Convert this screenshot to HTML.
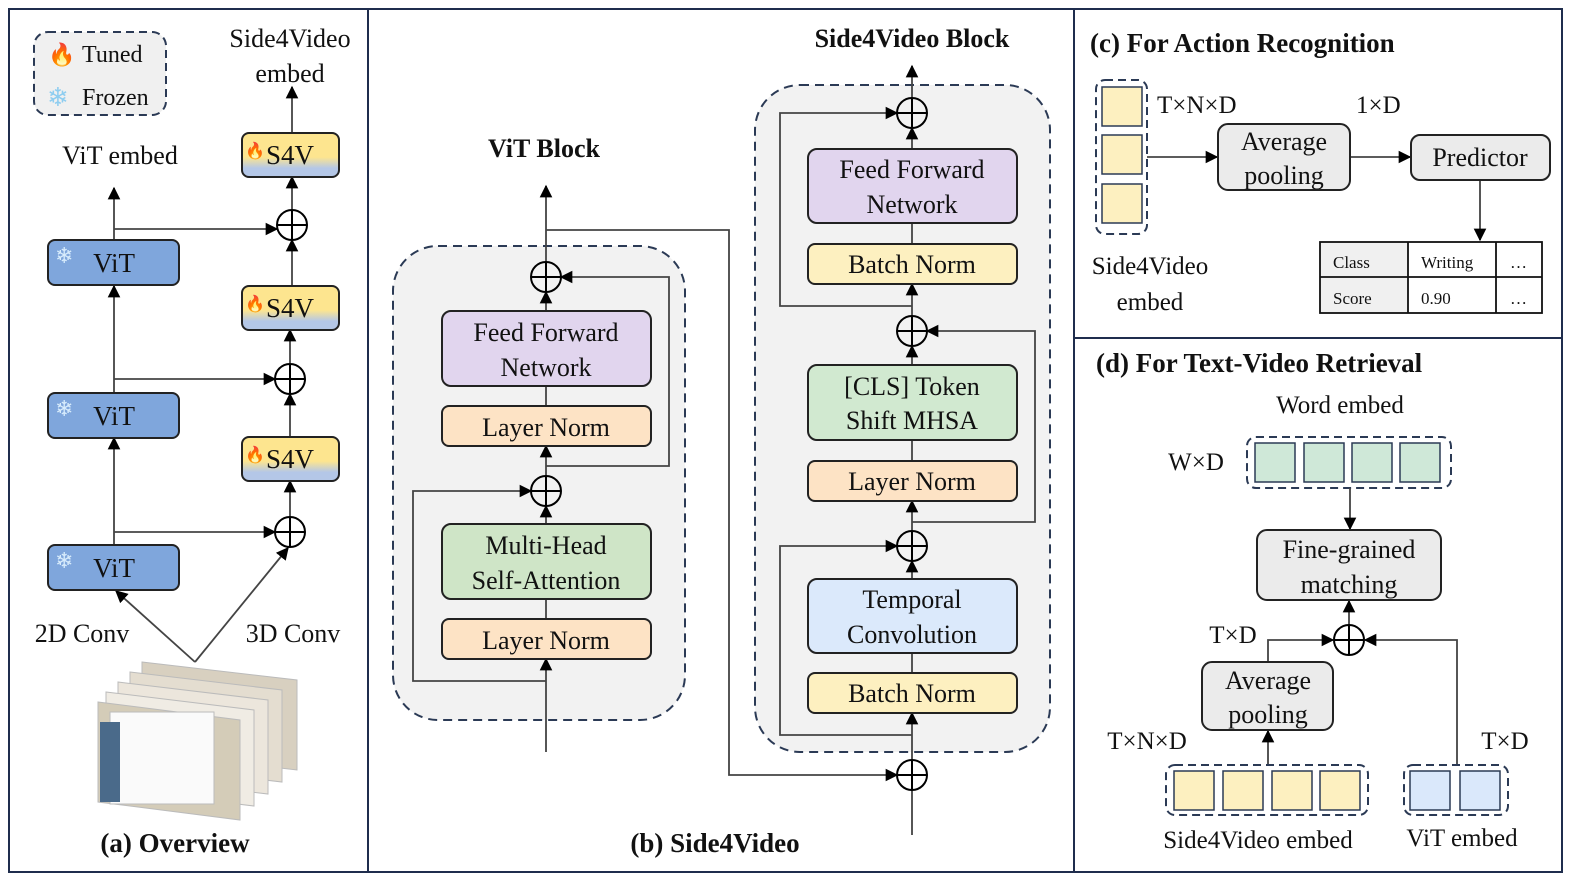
<!DOCTYPE html>
<html><head><meta charset="utf-8"><style>
html,body{margin:0;padding:0;background:#fff;overflow:hidden;width:1589px;height:894px}
svg{display:block}
text{font-family:"Liberation Serif",serif;fill:#111}
</style></head><body>
<svg width="1589" height="894" viewBox="0 0 1589 894" xmlns="http://www.w3.org/2000/svg">
<defs>
<marker id="ar" viewBox="0 0 10 10" refX="9" refY="5" markerWidth="7" markerHeight="7" orient="auto-start-reverse"><path d="M0,0L10,5L0,10z" fill="#000"/></marker>
<linearGradient id="sg" x1="0" y1="0" x2="0" y2="1"><stop offset="0" stop-color="#fde58f"/><stop offset="0.55" stop-color="#fde58f"/><stop offset="0.8" stop-color="#b4c7e7"/><stop offset="1" stop-color="#b4c7e7"/></linearGradient>
<g id="plus"><circle r="15" fill="none" stroke="#000" stroke-width="2"/><path d="M-15,0H15M0,-15V15" stroke="#000" stroke-width="2"/></g>
</defs>
<rect x="9" y="9" width="1553" height="863" fill="none" stroke="#1f2d4d" stroke-width="2"/>
<path d="M368,9V872M1074,9V872M1074,338H1562" stroke="#1f2d4d" stroke-width="2"/>

<!-- legend -->
<rect x="34" y="32" width="132" height="83" rx="14" fill="#f0f0f0" stroke="#2b3a55" stroke-width="2" stroke-dasharray="8,5"/>
<text x="48" y="62" font-size="22" style="fill:#e8501a">🔥</text>
<text x="82" y="62" font-size="24">Tuned</text>
<text x="47" y="106" font-size="26" style="fill:#8ecdf0">❄</text>
<text x="82" y="105" font-size="24">Frozen</text>
<text x="290" y="47" font-size="26" text-anchor="middle">Side4Video</text>
<text x="290" y="82" font-size="26" text-anchor="middle">embed</text>
<text x="120" y="164" font-size="26" text-anchor="middle">ViT embed</text>

<g stroke="#444" stroke-width="1.8" fill="none">
<path d="M292,133V87" marker-end="url(#ar)"/>
<path d="M292,210V177" marker-end="url(#ar)"/>
<path d="M292,286V240" marker-end="url(#ar)"/>
<path d="M290,437V394" marker-end="url(#ar)"/>
<path d="M290,363V330" marker-end="url(#ar)"/>
<path d="M290,517V481" marker-end="url(#ar)"/>
<path d="M114,240V188" marker-end="url(#ar)"/>
<path d="M114,229H277" marker-end="url(#ar)"/>
<path d="M114,393V286" marker-end="url(#ar)"/>
<path d="M114,379H275" marker-end="url(#ar)"/>
<path d="M114,545V438" marker-end="url(#ar)"/>
<path d="M114,532H275" marker-end="url(#ar)"/>
<path d="M195,662L116,591" marker-end="url(#ar)"/>
<path d="M195,662L288,548" marker-end="url(#ar)"/>
</g>

<g stroke="#222" stroke-width="2">
<rect x="242" y="133" width="97" height="44" rx="7" fill="url(#sg)"/>
<rect x="242" y="286" width="97" height="44" rx="7" fill="url(#sg)"/>
<rect x="242" y="437" width="97" height="44" rx="7" fill="url(#sg)"/>
<rect x="48" y="240" width="131" height="45" rx="7" fill="#7fa6dc"/>
<rect x="48" y="393" width="131" height="45" rx="7" fill="#7fa6dc"/>
<rect x="48" y="545" width="131" height="45" rx="7" fill="#7fa6dc"/>
</g>
<g font-size="27">
<text x="290" y="164" text-anchor="middle">S4V</text>
<text x="290" y="317" text-anchor="middle">S4V</text>
<text x="290" y="468" text-anchor="middle">S4V</text>
<text x="114" y="272" text-anchor="middle">ViT</text>
<text x="114" y="425" text-anchor="middle">ViT</text>
<text x="114" y="577" text-anchor="middle">ViT</text>
</g>
<g font-size="16"><text x="245" y="156" style="fill:#e8501a">🔥</text><text x="245" y="309" style="fill:#e8501a">🔥</text><text x="245" y="460" style="fill:#e8501a">🔥</text></g>
<g font-size="22"><text x="55" y="263" style="fill:#d8ecfc">❄</text><text x="55" y="416" style="fill:#d8ecfc">❄</text><text x="55" y="568" style="fill:#d8ecfc">❄</text></g>
<use href="#plus" x="292" y="225"/><use href="#plus" x="290" y="379"/><use href="#plus" x="290" y="532"/>
<text x="82" y="642" font-size="26" text-anchor="middle">2D Conv</text>
<text x="293" y="642" font-size="26" text-anchor="middle">3D Conv</text>
<!-- video frames -->
<g stroke="#bbb" stroke-width="1">
<polygon points="142,662 297,680 297,770 142,752" fill="#d8d0c0"/>
<polygon points="130,672 282,690 282,782 130,764" fill="#e4ddd0"/>
<polygon points="118,682 268,700 268,794 118,776" fill="#ece6dc"/>
<polygon points="106,692 254,710 254,806 106,788" fill="#f0ece4"/>
<polygon points="98,702 240,720 240,820 98,802" fill="#d4ccb8"/>
<rect x="110" y="712" width="104" height="92" fill="#fafafa"/>
</g>
<rect x="100" y="722" width="20" height="80" fill="#4a6a8a"/>
<text x="175" y="852" font-size="27" font-weight="bold" text-anchor="middle">(a) Overview</text>

<!-- panel b -->
<text x="544" y="157" font-size="26" font-weight="bold" text-anchor="middle">ViT Block</text>
<rect x="393" y="246" width="292" height="474" rx="45" fill="#f2f2f2" stroke="#2b3a55" stroke-width="2" stroke-dasharray="9,6"/>
<rect x="755" y="85" width="295" height="667" rx="45" fill="#f2f2f2" stroke="#2b3a55" stroke-width="2" stroke-dasharray="9,6"/>
<g stroke="#444" stroke-width="1.8" fill="none">
<path d="M546,752V659" marker-end="url(#ar)"/>
<path d="M546,619V599"/>
<path d="M546,524V506" marker-end="url(#ar)"/>
<path d="M546,476V446" marker-end="url(#ar)"/>
<path d="M546,406V386"/>
<path d="M546,311V292" marker-end="url(#ar)"/>
<path d="M546,262V186" marker-end="url(#ar)"/>
<path d="M546,681H413V491H531" marker-end="url(#ar)"/>
<path d="M546,466H669V277H561" marker-end="url(#ar)"/>
<path d="M546,230H729V775H897" marker-end="url(#ar)"/>
<path d="M912,835V790"/>
<path d="M912,760V713" marker-end="url(#ar)"/>
<path d="M912,673V653"/>
<path d="M912,579V561" marker-end="url(#ar)"/>
<path d="M912,531V501" marker-end="url(#ar)"/>
<path d="M912,461V440"/>
<path d="M912,365V346" marker-end="url(#ar)"/>
<path d="M912,316V284" marker-end="url(#ar)"/>
<path d="M912,244V223"/>
<path d="M912,149V128" marker-end="url(#ar)"/>
<path d="M912,98V66" marker-end="url(#ar)"/>
<path d="M912,735H780V546H897" marker-end="url(#ar)"/>
<path d="M912,522H1035V331H927" marker-end="url(#ar)"/>
<path d="M912,306H780V113H897" marker-end="url(#ar)"/>
</g>
<g stroke="#222" stroke-width="2">
<rect x="442" y="311" width="209" height="75" rx="9" fill="#e1d5ee"/>
<rect x="442" y="406" width="209" height="40" rx="7" fill="#fde3c5"/>
<rect x="442" y="524" width="209" height="75" rx="9" fill="#cfe5c7"/>
<rect x="442" y="619" width="209" height="40" rx="7" fill="#fde3c5"/>
<rect x="808" y="149" width="209" height="74" rx="9" fill="#e1d5ee"/>
<rect x="808" y="244" width="209" height="40" rx="7" fill="#fdf0c0"/>
<rect x="808" y="365" width="209" height="75" rx="9" fill="#d1e9d0"/>
<rect x="808" y="461" width="209" height="40" rx="7" fill="#fde3c5"/>
<rect x="808" y="579" width="209" height="74" rx="9" fill="#dbe9fb"/>
<rect x="808" y="673" width="209" height="40" rx="7" fill="#fdf0c0"/>
</g>
<use href="#plus" x="546" y="277"/><use href="#plus" x="546" y="491"/>
<use href="#plus" x="912" y="113"/><use href="#plus" x="912" y="331"/><use href="#plus" x="912" y="546"/><use href="#plus" x="912" y="775"/>
<g font-size="26" text-anchor="middle">
<text x="546" y="341">Feed Forward</text><text x="546" y="376">Network</text>
<text x="546" y="436">Layer Norm</text>
<text x="546" y="554">Multi-Head</text><text x="546" y="589">Self-Attention</text>
<text x="546" y="649">Layer Norm</text>
<text x="912" y="178">Feed Forward</text><text x="912" y="213">Network</text>
<text x="912" y="273">Batch Norm</text>
<text x="912" y="395">[CLS] Token</text><text x="912" y="429">Shift MHSA</text>
<text x="912" y="490">Layer Norm</text>
<text x="912" y="608">Temporal</text><text x="912" y="643">Convolution</text>
<text x="912" y="702">Batch Norm</text>
</g>
<text x="912" y="47" font-size="26" font-weight="bold" text-anchor="middle">Side4Video Block</text>
<text x="715" y="852" font-size="27" font-weight="bold" text-anchor="middle">(b) Side4Video</text>

<!-- panel c -->
<text x="1090" y="52" font-size="27" font-weight="bold">(c) For Action Recognition</text>
<rect x="1096" y="80" width="51" height="154" rx="9" fill="none" stroke="#2b3a55" stroke-width="2" stroke-dasharray="8,5"/>
<g fill="#fdf0c0" stroke="#2b3a55" stroke-width="1.5">
<rect x="1102" y="87" width="40" height="39"/><rect x="1102" y="135" width="40" height="39"/><rect x="1102" y="184" width="40" height="39"/>
</g>
<text x="1157" y="113" font-size="25">T×N×D</text>
<text x="1356" y="113" font-size="25">1×D</text>
<g stroke="#444" stroke-width="1.8" fill="none">
<path d="M1147,157H1217" marker-end="url(#ar)"/>
<path d="M1350,157H1410" marker-end="url(#ar)"/>
<path d="M1480,180V240" marker-end="url(#ar)"/>
</g>
<rect x="1218" y="124" width="132" height="66" rx="10" fill="#ebebeb" stroke="#222" stroke-width="2"/>
<text x="1284" y="150" font-size="26" text-anchor="middle">Average</text>
<text x="1284" y="184" font-size="26" text-anchor="middle">pooling</text>
<rect x="1411" y="135" width="139" height="45" rx="9" fill="#ebebeb" stroke="#222" stroke-width="2"/>
<text x="1480" y="166" font-size="26" text-anchor="middle">Predictor</text>
<text x="1150" y="274" font-size="25" text-anchor="middle">Side4Video</text>
<text x="1150" y="310" font-size="25" text-anchor="middle">embed</text>
<rect x="1320" y="242" width="88" height="71" fill="#f0f0f0"/>
<g stroke="#111" stroke-width="1.8" fill="none">
<rect x="1320" y="242" width="222" height="71"/>
<path d="M1320,277H1542M1408,242V313M1496,242V313"/>
</g>
<g font-size="17"><text x="1333" y="268">Class</text><text x="1421" y="268">Writing</text><text x="1510" y="268">…</text>
<text x="1333" y="304">Score</text><text x="1421" y="304">0.90</text><text x="1510" y="304">…</text></g>

<!-- panel d -->
<text x="1096" y="372" font-size="27" font-weight="bold">(d) For Text-Video Retrieval</text>
<text x="1340" y="413" font-size="25" text-anchor="middle">Word embed</text>
<text x="1196" y="470" font-size="25" text-anchor="middle">W×D</text>
<rect x="1247" y="437" width="204" height="51" rx="9" fill="none" stroke="#2b3a55" stroke-width="2" stroke-dasharray="8,5"/>
<g fill="#cfe8d8" stroke="#2b3a55" stroke-width="1.5">
<rect x="1255" y="443" width="40" height="39"/><rect x="1304" y="443" width="40" height="39"/><rect x="1352" y="443" width="40" height="39"/><rect x="1400" y="443" width="40" height="39"/>
</g>
<g stroke="#444" stroke-width="1.8" fill="none">
<path d="M1350,488V529" marker-end="url(#ar)"/>
<path d="M1349,625V601" marker-end="url(#ar)"/>
<path d="M1268,662V640H1333" marker-end="url(#ar)"/>
<path d="M1268,765V731" marker-end="url(#ar)"/>
<path d="M1457,765V640H1365" marker-end="url(#ar)"/>
</g>
<rect x="1257" y="530" width="184" height="70" rx="10" fill="#ebebeb" stroke="#222" stroke-width="2"/>
<text x="1349" y="558" font-size="26" text-anchor="middle">Fine-grained</text>
<text x="1349" y="593" font-size="26" text-anchor="middle">matching</text>
<use href="#plus" x="1349" y="640"/>
<text x="1233" y="643" font-size="25" text-anchor="middle">T×D</text>
<rect x="1202" y="662" width="131" height="68" rx="10" fill="#ebebeb" stroke="#222" stroke-width="2"/>
<text x="1268" y="689" font-size="26" text-anchor="middle">Average</text>
<text x="1268" y="723" font-size="26" text-anchor="middle">pooling</text>
<text x="1147" y="749" font-size="25" text-anchor="middle">T×N×D</text>
<text x="1505" y="749" font-size="25" text-anchor="middle">T×D</text>
<rect x="1166" y="765" width="202" height="50" rx="9" fill="none" stroke="#2b3a55" stroke-width="2" stroke-dasharray="8,5"/>
<g fill="#fdf0c0" stroke="#2b3a55" stroke-width="1.5">
<rect x="1174" y="771" width="40" height="39"/><rect x="1223" y="771" width="40" height="39"/><rect x="1272" y="771" width="40" height="39"/><rect x="1320" y="771" width="40" height="39"/>
</g>
<rect x="1404" y="765" width="104" height="50" rx="9" fill="none" stroke="#2b3a55" stroke-width="2" stroke-dasharray="8,5"/>
<g fill="#dae8fb" stroke="#2b3a55" stroke-width="1.5">
<rect x="1410" y="771" width="40" height="39"/><rect x="1460" y="771" width="40" height="39"/>
</g>
<text x="1258" y="848" font-size="25" text-anchor="middle">Side4Video embed</text>
<text x="1462" y="846" font-size="25" text-anchor="middle">ViT embed</text>
</svg>
</body></html>
